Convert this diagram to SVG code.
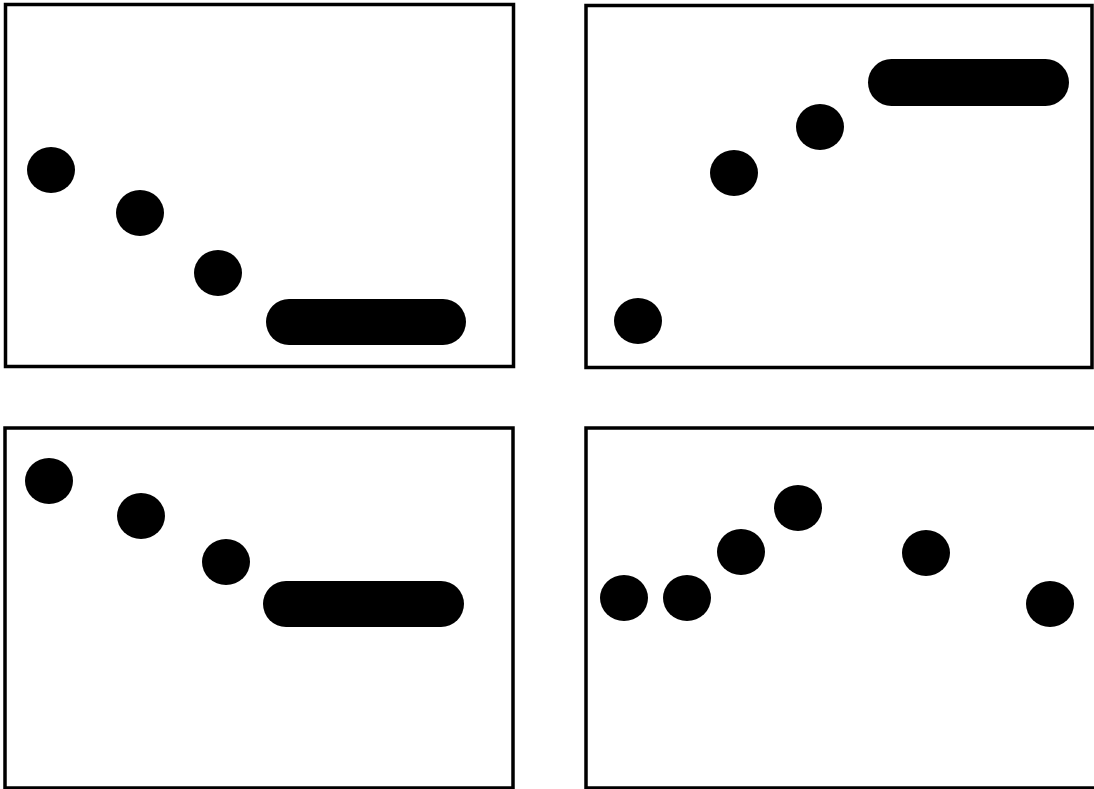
<svg xmlns="http://www.w3.org/2000/svg" width="1094" height="789" viewBox="0 0 1094 789">
<style>
.panel{fill:#fff;stroke:#000;stroke-width:3.5}
.dot{fill:#000}
</style>
<rect width="1094" height="789" fill="#fff"/>
<g id="panel1">
<rect class="panel" x="5.5" y="4.5" width="508" height="362"/>
<ellipse class="dot" cx="51" cy="170" rx="24" ry="23"/>
<ellipse class="dot" cx="140" cy="213" rx="24" ry="23"/>
<ellipse class="dot" cx="218" cy="273" rx="24" ry="23"/>
<rect class="dot" x="266" y="299" width="200" height="46" rx="23"/>
</g>
<g id="panel2">
<rect class="panel" x="586" y="5.5" width="506" height="362"/>
<ellipse class="dot" cx="638" cy="321" rx="24" ry="23"/>
<ellipse class="dot" cx="734" cy="173" rx="24" ry="23"/>
<ellipse class="dot" cx="820" cy="127" rx="24" ry="23"/>
<rect class="dot" x="868" y="59" width="201" height="47" rx="23.5"/>
</g>
<g id="panel3">
<rect class="panel" x="5" y="428" width="508" height="360"/>
<ellipse class="dot" cx="49" cy="481" rx="24" ry="23"/>
<ellipse class="dot" cx="141" cy="516" rx="24" ry="23"/>
<ellipse class="dot" cx="226" cy="562" rx="24" ry="23"/>
<rect class="dot" x="263" y="581" width="201" height="46" rx="23"/>
</g>
<g id="panel4">
<rect class="panel" x="586" y="428" width="512" height="360"/>
<ellipse class="dot" cx="624" cy="598" rx="24" ry="23"/>
<ellipse class="dot" cx="687" cy="598" rx="24" ry="23"/>
<ellipse class="dot" cx="741" cy="552" rx="24" ry="23"/>
<ellipse class="dot" cx="798" cy="508" rx="24" ry="23"/>
<ellipse class="dot" cx="926" cy="553" rx="24" ry="23"/>
<ellipse class="dot" cx="1050" cy="604" rx="24" ry="23"/>
</g>
<g id="connectors"></g>
</svg>
